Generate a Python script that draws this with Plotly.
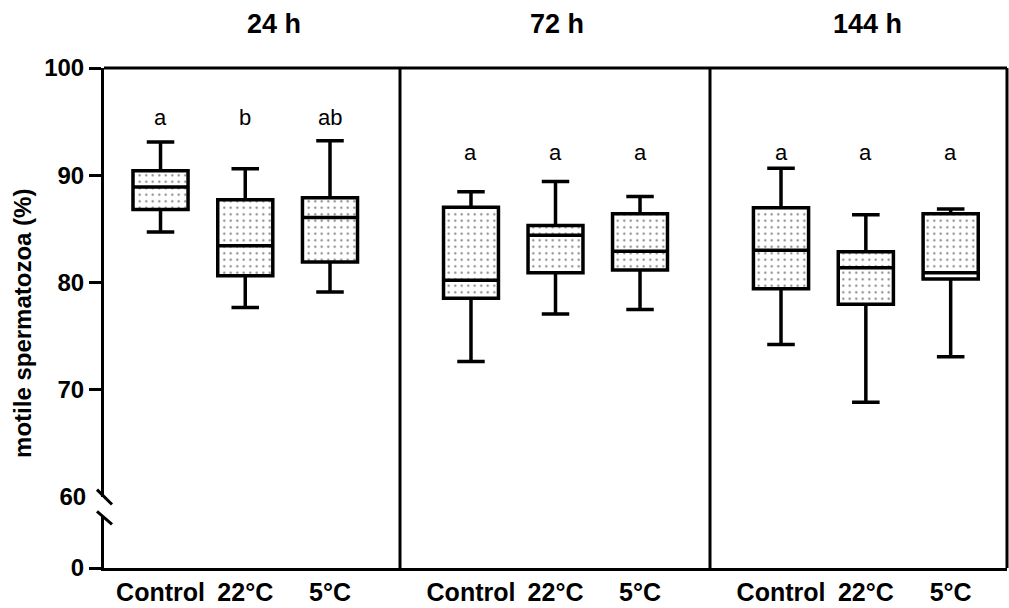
import plotly.graph_objects as go

# ---------------- data ----------------
categories = ["Control", "22°C", "5°C"]
timepoints = ["24 h", "72 h", "144 h"]

q1 = [[86.8, 80.6, 81.9], [78.5, 80.9, 81.15], [79.4, 77.95, 80.3]]
median = [[88.9, 83.4, 86.05], [80.2, 84.4, 82.9], [83.0, 81.35, 80.9]]
q3 = [[90.4, 87.7, 87.9], [87.0, 85.3, 86.4], [86.95, 82.85, 86.4]]
lower_whisker = [[84.7, 77.65, 79.1], [72.6, 77.05, 77.45], [74.2, 68.8, 73.05]]
upper_whisker = [[93.1, 90.6, 93.2], [88.45, 89.4, 88.0], [90.65, 86.3, 86.85]]

letters = [["a", "b", "ab"], ["a", "a", "a"], ["a", "a", "a"]]
letter_level = [95.4, 92.1, 92.1]

upper_ticks = [70, 80, 90, 100]
break_tick = [60]
lower_ticks = [0]

# ---------------- layout constants ----------------
FONT = "Liberation Sans, Arial, sans-serif"
W, H = 1009, 608
L, R, T, B = 104, 2, 68, 36
plot_w = W - L - R
plot_h = H - T - B

def px_x(p):
    return (p - L) / plot_w

def px_y(p):
    return (H - B - p) / plot_h

x_domains = [[0, px_x(400)], [px_x(400), px_x(710)], [px_x(710), 1]]
x_ranges = [[-0.667, 2.826], [-0.840, 2.828], [-0.837, 2.664]]
title_px = [274, 557, 867]

upper_domain = [px_y(500), 1]
lower_domain = [0, px_y(521)]

fig = go.Figure()

for i in range(3):
    xa = "x" if i == 0 else f"x{i+1}"
    heights = [q3[i][k] - q1[i][k] for k in range(3)]
    # dotted box body
    fig.add_trace(go.Bar(
        x=categories, y=heights, base=q1[i], width=0.65,
        xaxis=xa, yaxis="y",
        marker=dict(color="white", line=dict(width=0),
                    pattern=dict(shape=".", fgcolor="black", bgcolor="white",
                                 size=6.5, solidity=0.09)),
        showlegend=False, hoverinfo="skip",
    ))
    # box outline, median and whiskers
    fig.add_trace(go.Box(
        x=categories, q1=q1[i], median=median[i], q3=q3[i],
        lowerfence=lower_whisker[i], upperfence=upper_whisker[i],
        width=0.65, whiskerwidth=0.5,
        fillcolor="rgba(0,0,0,0)",
        line=dict(color="black", width=3.5),
        xaxis=xa, yaxis="y", showlegend=False,
    ))
    # letters above boxes
    for k in range(3):
        fig.add_annotation(
            x=categories[k], y=letter_level[i], xref=xa, yref="y",
            text=letters[i][k], showarrow=False, yanchor="middle", xanchor="center",
            font=dict(family=FONT, size=22, color="black"),
        )
    # panel title
    fig.add_annotation(
        x=px_x(title_px[i]), y=px_y(24), xref="paper", yref="paper",
        text=timepoints[i], showarrow=False, yanchor="middle", xanchor="center",
        font=dict(family=FONT, size=27, color="black", weight="bold"),
    )

# empty traces so the extra axis segments are drawn
fig.add_trace(go.Scatter(x=[], y=[], xaxis="x", yaxis="y2", showlegend=False))
fig.add_trace(go.Scatter(x=[], y=[], xaxis="x", yaxis="y3", showlegend=False))

axis_common = dict(showgrid=False, zeroline=False, linecolor="black", linewidth=3)
tick_font = dict(family=FONT, size=24, color="black", weight="bold")

layout = dict(
    width=W, height=H,
    margin=dict(l=L, r=R, t=T, b=B),
    paper_bgcolor="white", plot_bgcolor="white",
    showlegend=False,
    yaxis=dict(domain=upper_domain, range=[60, 100], anchor="x",
               tickmode="array", tickvals=upper_ticks,
               ticks="outside", ticklen=12, tickwidth=3, tickcolor="black",
               showline=True, tickfont=tick_font, **axis_common),
    yaxis3=dict(domain=upper_domain, range=[60, 100], anchor="x", overlaying="y",
                tickmode="array", tickvals=break_tick, ticks="outside",
                ticklen=12, tickwidth=3, tickcolor="rgba(0,0,0,0)", showline=False,
                showgrid=False, zeroline=False, tickfont=tick_font),
    yaxis2=dict(domain=lower_domain, range=[0, 5], anchor="x",
                tickmode="array", tickvals=lower_ticks,
                ticks="outside", ticklen=12, tickwidth=3, tickcolor="black",
                showline=True, tickfont=tick_font, **axis_common),
)
for i in range(3):
    key = "xaxis" if i == 0 else f"xaxis{i+1}"
    layout[key] = dict(
        domain=x_domains[i], range=x_ranges[i], type="category",
        anchor="y2", showline=True, ticks="",
        tickfont=dict(family=FONT, size=25, color="black", weight="bold"),
        **axis_common,
    )
fig.update_layout(**layout)

# y-axis title
fig.add_annotation(
    x=px_x(23), y=px_y(326), xref="paper", yref="paper",
    text="motile spermatozoa (%)", textangle=-90, showarrow=False,
    xanchor="center", yanchor="middle",
    font=dict(family=FONT, size=24, color="black", weight="bold"),
)

# frame: top border and panel separators
fig.add_shape(type="line", xref="paper", yref="paper", x0=0, x1=1, y0=1, y1=1,
              line=dict(color="black", width=3))
for i in range(3):
    xa = "x" if i == 0 else f"x{i+1}"
    fig.add_shape(type="line", xref=f"{xa} domain", yref="paper",
                  x0=1, x1=1, y0=0, y1=1, line=dict(color="black", width=3))

# axis-break marks
for top, bottom in [(493, 508), (515, 528)]:
    fig.add_shape(type="line", xref="paper", yref="paper",
                  x0=px_x(97), x1=px_x(112), y0=px_y(top), y1=px_y(bottom),
                  line=dict(color="black", width=3))

fig.write_html("out.html")
